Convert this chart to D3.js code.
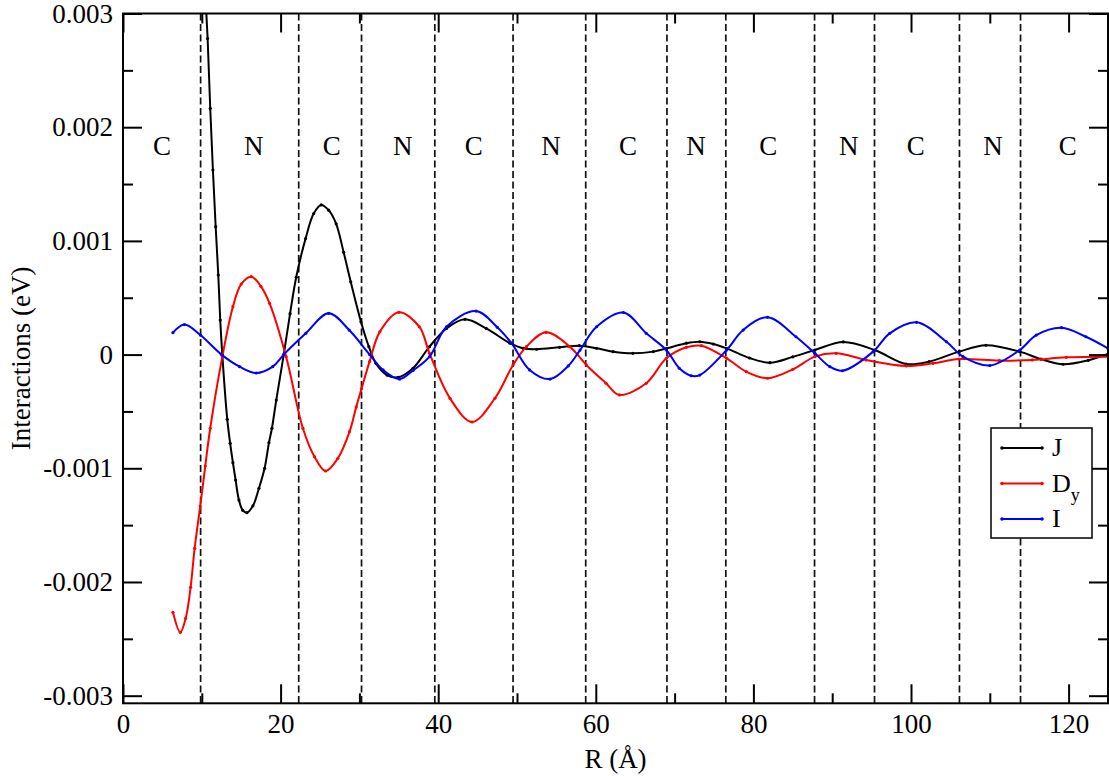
<!DOCTYPE html>
<html lang="en">
<head>
<meta charset="utf-8">
<title>Interactions</title>
<script src="https://cdn.jsdelivr.net/npm/d3@7"></script>
<style>
  body { margin: 0; background: #fff; }
  text { font-family: "Liberation Serif", "Times New Roman", serif; }
</style>
</head>
<body>
<svg width="1109" height="776"></svg>
<script>
// values, R in Å, energies in meV (scaled to eV below)
var jData = [
  [10.1, 3.6], [10.42, 3.2], [10.74, 2.78], [11.07, 2.166], [11.41, 1.623], [11.76, 1.125],
  [12.09, 0.70], [12.34, 0.304], [12.6, 0.0], [13.23, -0.569], [13.6, -0.78], [13.95, -0.951],
  [14.29, -1.103], [14.71, -1.279], [15.2, -1.37], [15.73, -1.39], [16.49, -1.33], [17.25, -1.176],
  [17.97, -1.0], [18.52, -0.775], [18.9, -0.648], [19.45, -0.40], [20.4, 0.0], [21.2, 0.36],
  [21.98, 0.68], [23.17, 1.02], [24.2, 1.24], [25.15, 1.316], [26.1, 1.27], [27.05, 1.15],
  [28.0, 0.9], [28.9, 0.64], [30.2, 0.289], [31.2, 0.07], [32.1, -0.077], [33.5, -0.18],
  [34.9, -0.2], [36.8, -0.12], [38.9, 0.07], [41.05, 0.23], [43.4, 0.31], [46.1, 0.23],
  [49.1, 0.10], [50.8, 0.055], [52.5, 0.047], [55.4, 0.064], [57.9, 0.078], [60.1, 0.055],
  [62.2, 0.026], [64.7, 0.011], [67.3, 0.026], [69.0, 0.055], [71.5, 0.10], [73.2, 0.113],
  [74.9, 0.093], [76.6, 0.055], [79.5, -0.03], [82.1, -0.071], [85.0, -0.02], [87.8, 0.04],
  [91.4, 0.111], [95.4, 0.04], [99.4, -0.083], [102.3, -0.062], [106.1, 0.026], [109.5, 0.082],
  [113.8, 0.026], [116.5, -0.04], [119.3, -0.085], [122.5, -0.05], [125, 0.005]
];
var dyData = [
  [6.34, -2.267], [7.27, -2.443], [7.95, -2.32], [8.58, -2.047], [9.09, -1.704], [9.8, -1.332],
  [10.44, -0.98], [11.07, -0.648], [12.6, -0.02], [13.95, 0.421], [15.0, 0.62], [16.28, 0.685],
  [17.5, 0.6], [18.6, 0.451], [20.7, -0.018], [22.83, -0.648], [24.3, -0.898], [25.7, -1.024],
  [27.27, -0.912], [28.75, -0.678], [29.6, -0.46], [30.27, -0.30], [31.3, -0.06], [32.59, 0.2],
  [35.0, 0.372], [37.6, 0.245], [38.9, 0.011], [41.5, -0.385], [44.3, -0.593], [47.2, -0.384],
  [49.5, -0.091], [51.2, 0.07], [53.7, 0.196], [56.7, 0.07], [58.8, -0.091], [61.3, -0.252],
  [63.0, -0.355], [66.4, -0.252], [68.95, -0.033], [71.5, 0.064], [73.4, 0.078], [76.6, -0.033],
  [79.1, -0.15], [81.8, -0.208], [85.0, -0.13], [87.8, -0.018], [90.5, 0.011], [94.3, -0.047],
  [99.4, -0.1], [102.8, -0.077], [106.1, -0.039], [111.2, -0.053], [115.4, -0.047],
  [119.7, -0.024], [125, -0.018]
];
var iData = [
  [6.34, 0.193], [7.8, 0.264], [9.85, 0.17], [12.5, 0.0], [14.8, -0.106], [16.9, -0.162],
  [19.0, -0.106], [20.4, 0.0], [23.2, 0.187], [26.1, 0.363], [28.7, 0.216], [31.3, 0.0],
  [33.0, -0.135], [35.1, -0.215], [36.8, -0.14], [38.9, -0.018], [41.05, 0.245], [44.8, 0.383],
  [47.5, 0.24], [49.3, 0.1], [51.6, -0.135], [54.2, -0.215], [56.5, -0.1], [58.0, 0.04],
  [60.1, 0.245], [63.5, 0.37], [66.4, 0.187], [68.95, 0.04], [70.6, -0.12], [72.1, -0.186],
  [73.2, -0.18], [76.6, 0.04], [78.7, 0.216], [81.8, 0.328], [85.4, 0.157], [87.8, 0.011],
  [89.7, -0.106], [91.3, -0.142], [95.2, 0.026], [97.3, 0.187], [100.7, 0.284], [104.5, 0.113],
  [106.6, -0.018], [110.0, -0.096], [113.8, 0.04], [115.9, 0.172], [119.1, 0.237],
  [122.2, 0.157], [125, 0.055]
];
var boundaries = [9.85, 22.3, 30.27, 39.57, 49.5, 58.72, 69.03, 76.5, 87.76, 95.37, 106.15, 113.9];
var regionNames = ["C", "N", "C", "N", "C", "N", "C", "N", "C", "N", "C", "N", "C"];
var regionPos = [4.95, 16.6, 26.5, 35.5, 44.5, 54.3, 64.1, 72.7, 81.9, 92.1, 100.6, 110.4, 119.9];
var xMajor = [0, 20, 40, 60, 80, 100, 120];
var xMinor = [10, 30, 50, 70, 90, 110];
var yMajor = [-0.003, -0.002, -0.001, 0, 0.001, 0.002, 0.003];
var yMinor = [-0.0025, -0.0015, -0.0005, 0.0005, 0.0015, 0.0025];
var yLabels = ["-0.003", "-0.002", "-0.001", "0", "0.001", "0.002", "0.003"];

var series = [
  { name: "J", color: "#000000", data: jData },
  { name: "D", sub: "y", color: "#ff0000", data: dyData },
  { name: "I", color: "#0000ff", data: iData }
];

var pLeft = 123, pTop = 13.5, pRight = 1108, pBottom = 703.3;
var svg = d3.select("svg");
var x = d3.scaleLinear().domain([0, 125]).range([pLeft, pRight]);
var y = d3.scaleLinear().domain([-0.003067, 0.003]).range([pBottom, pTop]);

svg.append("clipPath").attr("id", "plot")
  .append("rect").attr("x", pLeft).attr("y", pTop)
  .attr("width", pRight - pLeft).attr("height", pBottom - pTop);

// dashed boundaries
svg.append("g").selectAll("line").data(boundaries).enter().append("line")
  .attr("x1", d => x(d)).attr("x2", d => x(d))
  .attr("y1", pTop).attr("y2", pBottom)
  .attr("stroke", "#111").attr("stroke-width", 1.7)
  .attr("stroke-dasharray", "7,3.5");

// region labels
svg.append("g").selectAll("text").data(regionNames).enter().append("text")
  .attr("x", (d, i) => x(regionPos[i])).attr("y", 155)
  .attr("text-anchor", "middle").attr("font-size", 27)
  .text(d => d);

// curves
var line = d3.line()
  .x(d => x(d[0])).y(d => y(d[1] / 1000))
  .curve(d3.curveCatmullRom.alpha(0.5));
var plot = svg.append("g").attr("clip-path", "url(#plot)");
series.forEach(function (s) {
  plot.append("path").datum(s.data)
    .attr("d", line).attr("fill", "none")
    .attr("stroke", s.color).attr("stroke-width", 2);
  plot.selectAll(null).data(s.data).enter().append("circle")
    .attr("cx", d => x(d[0])).attr("cy", d => y(d[1] / 1000))
    .attr("r", 1.6).attr("fill", s.color);
});

// axes, ticks pointing inward on all four sides
function styleAxis(g) {
  g.attr("font-family", null).attr("font-size", null);
  g.select(".domain").remove();
  g.selectAll("line").attr("stroke", "#000").attr("stroke-width", 2);
  g.selectAll("text").attr("font-size", 27).attr("fill", "#000")
    .style("font-family", "'Liberation Serif', 'Times New Roman', serif");
}
svg.append("g").attr("transform", "translate(0," + pBottom + ")")
  .call(d3.axisBottom(x).tickValues(xMajor).tickSize(-19).tickPadding(11).tickFormat(d3.format("d")))
  .call(styleAxis);
svg.append("g").attr("transform", "translate(0," + pBottom + ")")
  .call(d3.axisBottom(x).tickValues(xMinor).tickSize(-10).tickFormat(""))
  .call(styleAxis);
svg.append("g").attr("transform", "translate(0," + pTop + ")")
  .call(d3.axisTop(x).tickValues(xMajor).tickSize(-19).tickFormat(""))
  .call(styleAxis);
svg.append("g").attr("transform", "translate(0," + pTop + ")")
  .call(d3.axisTop(x).tickValues(xMinor).tickSize(-10).tickFormat(""))
  .call(styleAxis);
svg.append("g").attr("transform", "translate(" + pLeft + ",0)")
  .call(d3.axisLeft(y).tickValues(yMajor).tickSize(-19).tickPadding(10)
    .tickFormat((d, i) => yLabels[i]))
  .call(styleAxis);
svg.append("g").attr("transform", "translate(" + pLeft + ",0)")
  .call(d3.axisLeft(y).tickValues(yMinor).tickSize(-10).tickFormat(""))
  .call(styleAxis);
svg.append("g").attr("transform", "translate(" + pRight + ",0)")
  .call(d3.axisRight(y).tickValues(yMajor).tickSize(-19).tickFormat(""))
  .call(styleAxis);
svg.append("g").attr("transform", "translate(" + pRight + ",0)")
  .call(d3.axisRight(y).tickValues(yMinor).tickSize(-10).tickFormat(""))
  .call(styleAxis);

svg.append("rect")
  .attr("x", pLeft).attr("y", pTop)
  .attr("width", pRight - pLeft).attr("height", pBottom - pTop)
  .attr("fill", "none").attr("stroke", "#000").attr("stroke-width", 2);

// axis titles
svg.append("text").attr("x", (pLeft + pRight) / 2).attr("y", 768)
  .attr("text-anchor", "middle").attr("font-size", 27).text("R (Å)");
svg.append("text").attr("transform", "translate(30," + ((pTop + pBottom) / 2) + ") rotate(-90)")
  .attr("text-anchor", "middle").attr("font-size", 27).text("Interactions (eV)");

// legend
var legend = svg.append("g").attr("transform", "translate(991,428)");
legend.append("rect").attr("width", 101).attr("height", 110)
  .attr("fill", "#fff").attr("stroke", "#000").attr("stroke-width", 1.5);
series.forEach(function (s, i) {
  var ly = 20 + i * 35.5;
  legend.append("line").attr("x1", 11).attr("x2", 51).attr("y1", ly).attr("y2", ly)
    .attr("stroke", s.color).attr("stroke-width", 2);
  [11, 51].forEach(function (cx) {
    legend.append("circle").attr("cx", cx).attr("cy", ly).attr("r", 1.8).attr("fill", s.color);
  });
  var t = legend.append("text").attr("x", 61).attr("y", ly + 8).attr("font-size", 26);
  t.append("tspan").text(s.name);
  if (s.sub) {
    t.append("tspan").attr("dy", 9).attr("font-size", 18).text(s.sub);
  }
});
</script>
</body>
</html>
